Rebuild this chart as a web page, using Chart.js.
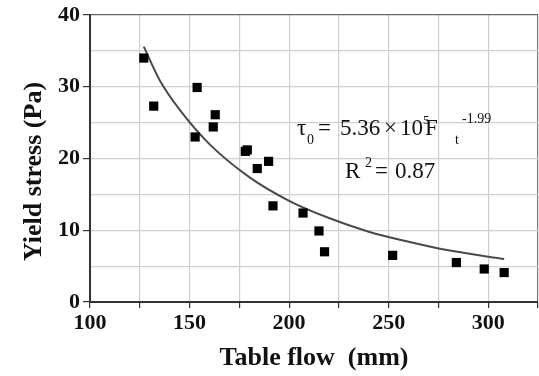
<!DOCTYPE html>
<html>
<head>
    <title>Yield stress vs table flow</title>
    <script src="https://cdn.jsdelivr.net/npm/chart.js@4.4.0/dist/chart.umd.min.js"></script>
    <style>
        html, body {
            margin: 0;
            padding: 0;
            background: #ffffff;
        }
        .chart-container {
            position: relative;
            width: 539px;
            height: 376px;
        }
    </style>
</head>
<body>
    <div class="chart-container">
        <canvas id="flowChart" width="539" height="376"></canvas>
    </div>

    <script>
        // measured points
        const tableFlow = [127, 132, 153.8, 152.8, 162.9, 161.9, 178, 179, 184, 189.7, 191.9, 207, 215, 217.8, 252, 284, 298, 308];
        const yieldStress = [34, 27.3, 29.9, 23.0, 26.1, 24.4, 21.0, 21.2, 18.6, 19.6, 13.4, 12.4, 9.9, 7.0, 6.5, 5.5, 4.6, 4.1];

        // fitted curve
        const fitFlow = [127, 135, 145, 160, 180, 200, 220, 240, 260, 280, 300, 308];
        const fitStress = [35.6, 30.9, 26.8, 22.0, 17.4, 14.1, 11.7, 9.8, 8.4, 7.2, 6.3, 6.0];

        const xTicksShown = [100, 150, 200, 250, 300];
        const yTicksShown = [0, 10, 20, 30, 40];

        const serif = '"Liberation Serif", "Times New Roman", serif';

        // draws the fit equation and R^2 onto the plot
        const equationPlugin = {
            id: 'equation',
            afterDatasetsDraw(chart) {
                const ctx = chart.ctx;
                const x0 = chart.scales.x.getPixelForValue(204);
                const y0 = chart.scales.y.getPixelForValue(23.3);
                const big = '23px ' + serif;
                const small = '14px ' + serif;
                const tiny = '13px ' + serif;
                ctx.save();
                ctx.fillStyle = '#111';
                ctx.textBaseline = 'alphabetic';
                ctx.textAlign = 'left';
                const put = (txt, font, dx, dy) => {
                    ctx.font = font;
                    ctx.fillText(txt, x0 + dx, y0 + dy);
                };
                put('\u03C4', big, 0, 0);
                put('0', small, 10, 9);
                put('=', big, 21, 0);
                put('5.36', big, 43, 0);
                put('\u00D7', big, 87, 0);
                put('10', big, 103, 0);
                put('5', tiny, 126, -11);
                put('F', big, 128, 0);
                put('t', small, 158, 9);
                put('-1.99', small, 165, -12);

                put('R', big, 48, 43);
                put('2', small, 68, 32);
                put('=', big, 78, 43);
                put('0.87', big, 98, 43);
                ctx.restore();
            }
        };

        new Chart(document.getElementById('flowChart'), {
            type: 'scatter',
            data: {
                datasets: [{
                    label: 'Measured',
                    data: tableFlow.map((f, i) => ({ x: f, y: yieldStress[i] })),
                    pointStyle: 'rect',
                    pointRadius: 6.5,
                    backgroundColor: '#000',
                    borderColor: '#000',
                    borderWidth: 0,
                    order: 1
                }, {
                    label: 'Fit',
                    data: fitFlow.map((f, i) => ({ x: f, y: fitStress[i] })),
                    showLine: true,
                    pointRadius: 0,
                    borderColor: '#4a4a4a',
                    borderWidth: 2,
                    cubicInterpolationMode: 'monotone',
                    order: 2
                }]
            },
            plugins: [equationPlugin],
            options: {
                responsive: false,
                animation: false,
                layout: {
                    autoPadding: false,
                    padding: { top: 15, right: 1, left: 0, bottom: 0 }
                },
                plugins: {
                    legend: { display: false },
                    tooltip: { enabled: false }
                },
                scales: {
                    x: {
                        type: 'linear',
                        min: 100,
                        max: 325,
                        afterFit: s => { s.height = 74; s.paddingRight = 0; },
                        ticks: {
                            stepSize: 25,
                            color: '#111',
                            padding: 2,
                            maxRotation: 0,
                            autoSkip: false,
                            font: { family: serif, size: 22, weight: 'bold' },
                            callback: v => xTicksShown.includes(v) ? v : ''
                        },
                        grid: {
                            color: c => c.tick && c.tick.value === 325 ? '#777' : '#cfcfcf',
                            tickColor: '#333',
                            tickLength: 6,
                            lineWidth: 1.2
                        },
                        border: { color: '#333', width: 2 },
                        title: {
                            display: true,
                            text: 'Table flow  (mm)',
                            color: '#111',
                            font: { family: serif, size: 26, weight: 'bold' },
                            padding: { top: 0, bottom: 2 }
                        }
                    },
                    y: {
                        min: 0,
                        max: 40,
                        afterFit: s => { s.width = 90; s.paddingTop = 0; s.paddingBottom = 0; },
                        ticks: {
                            stepSize: 5,
                            color: '#111',
                            padding: 3,
                            font: { family: serif, size: 22, weight: 'bold' },
                            callback: v => yTicksShown.includes(v) ? v : ''
                        },
                        grid: {
                            color: c => c.tick && c.tick.value === 40 ? '#666' : '#cfcfcf',
                            tickColor: c => c.tick && yTicksShown.includes(c.tick.value) ? '#333' : 'rgba(0,0,0,0)',
                            tickLength: 7,
                            lineWidth: 1.2
                        },
                        border: { color: '#333', width: 2 },
                        title: {
                            display: true,
                            text: 'Yield stress (Pa)    ',
                            color: '#111',
                            font: { family: serif, size: 26, weight: 'bold' },
                            padding: { top: 19, bottom: 0 }
                        }
                    }
                }
            }
        });
    </script>
</body>
</html>
